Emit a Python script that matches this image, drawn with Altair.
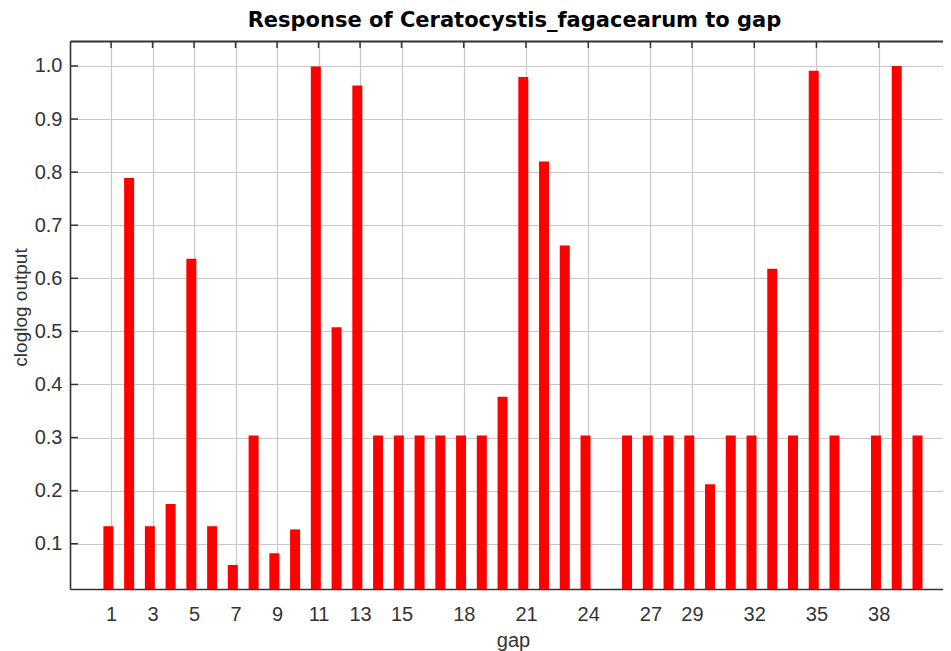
import altair as alt
import pandas as pd

# ---- data ----
gap = [1, 2, 3, 4, 5, 6, 7, 8, 9, 10, 11, 12, 13, 14, 15, 16, 17, 18, 19, 20,
       21, 22, 23, 24, 26, 27, 28, 29, 30, 31, 32, 33, 34, 35, 36, 38, 39, 40]
output = [0.133, 0.789, 0.133, 0.175, 0.637, 0.133, 0.060, 0.304, 0.082, 0.127,
          0.999, 0.508, 0.963, 0.304, 0.304, 0.304, 0.304, 0.304, 0.304, 0.377,
          0.979, 0.820, 0.662, 0.304, 0.304, 0.304, 0.304, 0.304, 0.212, 0.304,
          0.304, 0.618, 0.304, 0.991, 0.304, 0.304, 1.000, 0.304]
x_ticks = [1, 3, 5, 7, 9, 11, 13, 15, 18, 21, 24, 27, 29, 32, 35, 38]
y_ticks = [0.1, 0.2, 0.3, 0.4, 0.5, 0.6, 0.7, 0.8, 0.9, 1.0]

df = pd.DataFrame({"gap": gap, "output": output})
xt = pd.DataFrame({"t": x_ticks})
yt = pd.DataFrame({"v": y_ticks})

W, H = 873, 548
xscale = alt.Scale(domain=[-0.98, 41.1], nice=False, zero=False, padding=0)
yscale = alt.Scale(domain=[0.0147, 1.047], nice=False, zero=False)
FRAME = "#333333"
GRID = "#c8c8c8"

bars = alt.Chart(df).mark_bar(color="#ff0000", size=10, xOffset=-2.7, clip=True).encode(
    x=alt.X("gap:Q", scale=xscale,
            axis=alt.Axis(orient="bottom", values=x_ticks, title="gap", grid=True,
                          gridColor=GRID, gridWidth=1.2, ticks=False,
                          domain=True, domainColor=FRAME, domainWidth=1.6,
                          labelFont="Liberation Sans", labelFontSize=20,
                          labelColor="#333333", labelPadding=15, labelFlush=False,
                          labelOverlap=False,
                          titleFont="Liberation Sans", titleFontSize=20,
                          titleFontWeight="normal", titleColor="#333333",
                          titleX=443, titleY=57, titleBaseline="alphabetic",
                          titleAlign="center")),
    y=alt.Y("output:Q", scale=yscale,
            axis=alt.Axis(orient="left", values=y_ticks, format=".1f",
                          title="cloglog output", grid=True, gridColor=GRID,
                          gridWidth=1.2, ticks=False, domain=True,
                          domainColor=FRAME, domainWidth=1.6,
                          labelFont="Liberation Sans", labelFontSize=20,
                          labelColor="#333333", labelPadding=8, labelFlush=False,
                          labelOverlap=False,
                          titleFont="Liberation Sans", titleFontSize=19,
                          titleFontWeight="normal", titleColor="#333333",
                          titleAngle=270, titleX=-44, titleY=266,
                          titleBaseline="alphabetic", titleAlign="center")),
)

top_ticks = alt.Chart(xt).mark_rule(color=FRAME, strokeWidth=1.5).encode(
    x=alt.X("t:Q", scale=xscale,
            axis=alt.Axis(orient="top", labels=False, ticks=False, grid=False,
                          domain=True, domainColor=FRAME, domainWidth=2,
                          title=None)),
    y=alt.value(0),
    y2=alt.value(7),
)

left_ticks = alt.Chart(yt).mark_rule(color=FRAME, strokeWidth=1.5).encode(
    y=alt.Y("v:Q", scale=yscale, axis=None),
    x=alt.value(0),
    x2=alt.value(8),
)

chart = alt.layer(bars, top_ticks, left_ticks).resolve_axis(
    x="independent", y="independent"
).properties(
    width=W,
    height=H,
    title=alt.TitleParams(
        text="Response of Ceratocystis_fagacearum to gap",
        font="DejaVu Sans", fontSize=21, fontWeight="bold", color="#000000",
        anchor="middle", frame="group", offset=9, dx=8, dy=17,
        baseline="alphabetic",
    ),
    autosize=alt.AutoSizeParams(type="none"),
    padding={"left": 62, "top": 33, "right": 0, "bottom": 62},
).configure_view(stroke=None).configure(background="white")

chart.save("out.html", embed_options={"renderer": "svg", "actions": False})
